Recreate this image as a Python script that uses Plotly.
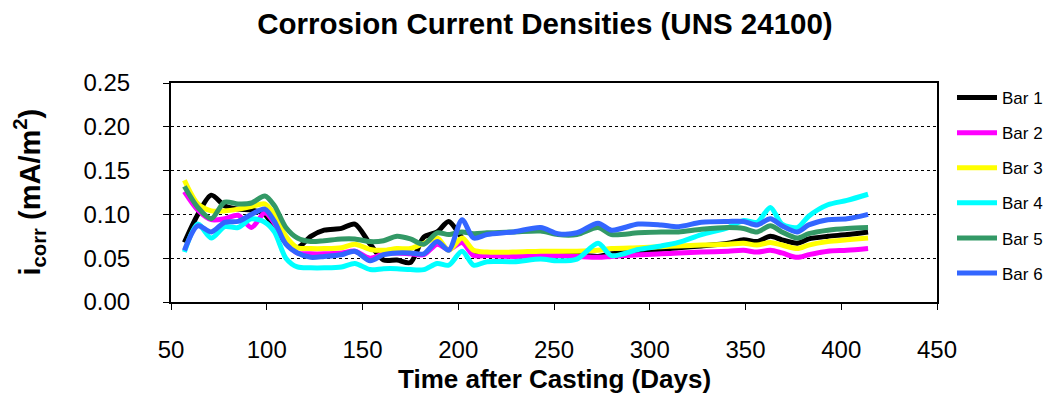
import plotly.graph_objects as go

days = [57, 64, 71, 78, 85, 92, 99, 104, 110, 116, 123, 130, 139, 146, 154, 161, 168, 175, 182, 189,
        195, 202, 208, 215, 229, 243, 252, 262, 273, 280, 294, 306, 315, 327, 341, 349, 356, 363, 369,
        377, 383, 393, 403, 414]

bar1 = [0.068, 0.100, 0.122, 0.110, 0.106, 0.105, 0.100, 0.085, 0.068, 0.062, 0.075, 0.082, 0.084, 0.089,
        0.066, 0.048, 0.048, 0.045, 0.074, 0.080, 0.092, 0.073, 0.058, 0.056, 0.056, 0.057, 0.056, 0.054,
        0.052, 0.055, 0.058, 0.060, 0.062, 0.064, 0.067, 0.071, 0.069, 0.075, 0.071, 0.067, 0.072, 0.075,
        0.077, 0.080]
bar2 = [0.126, 0.105, 0.094, 0.095, 0.099, 0.085, 0.102, 0.090, 0.068, 0.056, 0.055, 0.055, 0.056, 0.058,
        0.050, 0.055, 0.056, 0.055, 0.054, 0.066, 0.060, 0.068, 0.053, 0.053, 0.052, 0.053, 0.053, 0.052,
        0.051, 0.052, 0.054, 0.055, 0.056, 0.057, 0.058, 0.059, 0.057, 0.059, 0.056, 0.051, 0.054, 0.058,
        0.059, 0.061]
bar3 = [0.139, 0.112, 0.104, 0.104, 0.106, 0.109, 0.112, 0.100, 0.075, 0.062, 0.061, 0.061, 0.062, 0.066,
        0.060, 0.059, 0.061, 0.061, 0.067, 0.073, 0.059, 0.073, 0.059, 0.057, 0.057, 0.058, 0.058, 0.058,
        0.059, 0.061, 0.062, 0.063, 0.064, 0.065, 0.066, 0.067, 0.065, 0.068, 0.065, 0.061, 0.065, 0.069,
        0.071, 0.073]
bar4 = [0.057, 0.089, 0.073, 0.086, 0.085, 0.095, 0.091, 0.080, 0.050, 0.040, 0.039, 0.039, 0.040, 0.044,
        0.037, 0.038, 0.038, 0.037, 0.037, 0.044, 0.042, 0.058, 0.042, 0.046, 0.046, 0.049, 0.047, 0.049,
        0.067, 0.053, 0.060, 0.064, 0.068, 0.077, 0.085, 0.093, 0.091, 0.108, 0.089, 0.085, 0.098, 0.111,
        0.116, 0.123]
bar5 = [0.132, 0.108, 0.095, 0.114, 0.112, 0.113, 0.121, 0.110, 0.085, 0.073, 0.069, 0.070, 0.072, 0.072,
        0.069, 0.070, 0.075, 0.072, 0.066, 0.079, 0.077, 0.080, 0.078, 0.079, 0.080, 0.081, 0.077, 0.077,
        0.085, 0.077, 0.079, 0.080, 0.080, 0.083, 0.085, 0.084, 0.080, 0.087, 0.080, 0.073, 0.078, 0.082,
        0.084, 0.085]
bar6 = [0.059, 0.087, 0.080, 0.091, 0.092, 0.100, 0.106, 0.092, 0.066, 0.056, 0.051, 0.052, 0.054, 0.058,
        0.047, 0.054, 0.056, 0.056, 0.055, 0.069, 0.059, 0.094, 0.073, 0.077, 0.080, 0.085, 0.078, 0.079,
        0.090, 0.082, 0.089, 0.088, 0.086, 0.091, 0.092, 0.092, 0.088, 0.095, 0.087, 0.080, 0.088, 0.094,
        0.095, 0.100]

series_names = ["Bar 1", "Bar 2", "Bar 3", "Bar 4", "Bar 5", "Bar 6"]
series_values = [bar1, bar2, bar3, bar4, bar5, bar6]
colors = ["#000000", "#FF00FF", "#FFFF00", "#00FFFF", "#339966", "#3366FF"]

x_ticks = [50, 100, 150, 200, 250, 300, 350, 400, 450]
y_ticks = [0.00, 0.05, 0.10, 0.15, 0.20, 0.25]

FONT = "Arial, Liberation Sans, sans-serif"

# plot area in pixels
W, H = 1057, 398
L, R, T, B = 163, 128, 75, 104
PW, PH = W - L - R, H - T - B

fig = go.Figure()
for i, (name, vals, col) in enumerate(zip(series_names, series_values, colors)):
    fig.add_trace(go.Scatter(
        x=days, y=vals, name=name, mode="lines",
        line=dict(color=col, width=5, shape="spline", smoothing=0.8),
        legendgroup=f"g{i}",
    ))

fig.update_layout(
    width=W, height=H,
    margin=dict(l=L, r=R, t=T, b=B, autoexpand=False),
    paper_bgcolor="white", plot_bgcolor="white",
    font=dict(family=FONT, color="black"),
    title=dict(text="<b>Corrosion Current Densities (UNS 24100)</b>",
               font=dict(size=29.5, family=FONT, color="black"),
               x=537 / W, xanchor="center", y=1 - 16 / H, yanchor="middle"),
    showlegend=True,
    legend=dict(x=(944 - L) / PW, xanchor="left", y=(H - B - 72) / PH, yanchor="top",
                font=dict(size=17, family=FONT), tracegroupgap=10, maxheight=320,
                bgcolor="rgba(0,0,0,0)", borderwidth=0, itemwidth=40),
    xaxis=dict(range=[50, 450], tickvals=x_ticks, ticktext=[str(v) for v in x_ticks],
               showgrid=False, zeroline=False, showline=True, linecolor="black", linewidth=2,
               mirror=True, ticks="outside", ticklen=6, tickcolor="black", tickwidth=1,
               tickfont=dict(size=24, family=FONT), ticklabelstandoff=19),
    yaxis=dict(range=[0, 0.25], tickvals=y_ticks, ticktext=[f"{v:.2f}" for v in y_ticks],
               showgrid=True, gridcolor="black", gridwidth=1, griddash="dot",
               zeroline=False, showline=True, linecolor="black", linewidth=2,
               mirror=True, ticks="outside", ticklen=6, tickcolor="black", tickwidth=1,
               tickfont=dict(size=24, family=FONT), ticklabelstandoff=28),
    annotations=[
        dict(text="<b>Time after Casting (Days)</b>", x=(546 - L) / PW, y=-(371 - (H - B)) / PH,
             xref="paper", yref="paper", xanchor="center", yanchor="middle", showarrow=False,
             font=dict(size=26, family=FONT)),
        dict(text="<b>i<sub>corr</sub> (mA/m<sup>2</sup>)</b>", x=(21 - L) / PW, y=0.5,
             xref="paper", yref="paper", xanchor="center", yanchor="middle", showarrow=False,
             textangle=-90, font=dict(size=29, family=FONT)),
    ],
)

fig.write_html("out.html")
